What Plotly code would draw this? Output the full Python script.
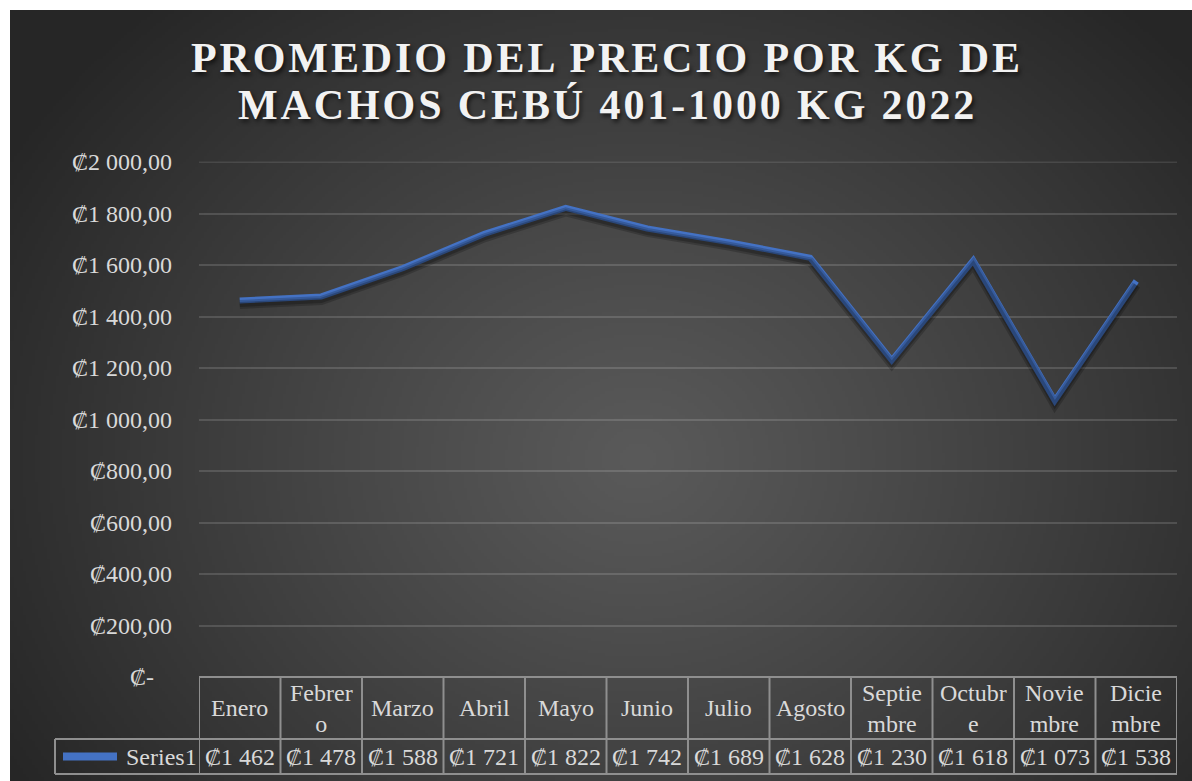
import numpy as np
import plotly.graph_objects as go
import zlib, struct, base64

# ---------------- data ----------------
months = ["Enero", "Febrero", "Marzo", "Abril", "Mayo", "Junio", "Julio",
          "Agosto", "Septiembre", "Octubre", "Noviembre", "Diciembre"]
month_labels = ["Enero", "Febrer<br>o", "Marzo", "Abril", "Mayo", "Junio", "Julio",
                "Agosto", "Septie<br>mbre", "Octubr<br>e", "Novie<br>mbre", "Dicie<br>mbre"]
prices = [1462, 1478, 1588, 1721, 1822, 1742, 1689, 1628, 1230, 1618, 1073, 1538]
y_tickvals = [0, 200, 400, 600, 800, 1000, 1200, 1400, 1600, 1800, 2000]
y_ticktext = ["₡-\u00a0\u00a0\u00a0", "₡200,00", "₡400,00", "₡600,00", "₡800,00",
              "₡1 000,00", "₡1 200,00", "₡1 400,00", "₡1 600,00", "₡1 800,00", "₡2 000,00"]
series_name = "Series1"
title_lines = ["PROMEDIO DEL PRECIO POR KG DE", "MACHOS CEBÚ 401-1000 KG 2022"]

# ---------------- geometry helpers ----------------
W, H = 1192, 781
def fx(p): return p / W
def fy(p): return 1 - p / H

PLOT_L, PLOT_R = 199, 1177
Y0_PX, Y2000_PX = 677, 161.5
HDR_TOP, HDR_BOT, ROW_BOT = 677, 739, 774
LEG_L = 55
Y_RANGE = [0, 2002]

FONT = "Liberation Serif, Times New Roman, DejaVu Serif, serif"
TXT = "#d9d9d9"
BORDER = "#8f8f8f"
BLUE = "#4472C4"
GRID = "rgba(255,255,255,0.14)"
FS = 24

# ---------------- background gradient image ----------------
bw, bh = 400, 262
yy, xx = np.mgrid[0:bh, 0:bw].astype(float)
cx, cy = 0.53 * bw, 0.58 * bh
r = np.sqrt(((xx - cx) / (0.62 * bw)) ** 2 + ((yy - cy) / (0.80 * bh)) ** 2)
r = np.clip(r, 0, 1)
c_in, c_out = 90, 38
val = c_in + (c_out - c_in) * r ** 1.1
arr = np.repeat(val[:, :, None], 3, axis=2).astype(np.uint8)

def make_png(a):
    h, w, _ = a.shape
    raw = b"".join(b"\x00" + a[i].tobytes() for i in range(h))
    def chunk(t, d):
        c = struct.pack(">I", len(d)) + t + d
        return c + struct.pack(">I", zlib.crc32(t + d) & 0xffffffff)
    return (b"\x89PNG\r\n\x1a\n" + chunk(b"IHDR", struct.pack(">IIBBBBB", w, h, 8, 2, 0, 0, 0))
            + chunk(b"IDAT", zlib.compress(raw, 9)) + chunk(b"IEND", b""))

bg_uri = "data:image/png;base64," + base64.b64encode(make_png(arr)).decode()

# ---------------- figure ----------------
fig = go.Figure()

ydom = [fy(Y0_PX), fy(Y2000_PX)]
shadow_off = 4 / H

# soft shadow of the line (same data on a slightly shifted axis)
fig.add_trace(go.Scatter(x=months, y=prices, mode="lines", xaxis="x", yaxis="y2",
                         line=dict(color="rgba(0,0,0,0.20)", width=9),
                         hoverinfo="skip", showlegend=False))
fig.add_trace(go.Scatter(x=months, y=prices, mode="lines", xaxis="x", yaxis="y2",
                         line=dict(color="rgba(0,0,0,0.22)", width=5),
                         hoverinfo="skip", showlegend=False))
fig.add_trace(go.Scatter(x=months, y=prices, mode="lines", name=series_name,
                         line=dict(color=BLUE, width=6), showlegend=False))

fig.update_layout(
    width=W, height=H,
    margin=dict(l=0, r=0, t=0, b=0, autoexpand=False),
    paper_bgcolor="white",
    plot_bgcolor="rgba(0,0,0,0)",
    xaxis=dict(domain=[fx(PLOT_L), fx(PLOT_R)], range=[-0.5, 11.5], type="category",
               showticklabels=False, showgrid=False, zeroline=False, showline=False,
               categoryorder="array", categoryarray=months, automargin=False),
    yaxis=dict(domain=ydom, range=Y_RANGE, tickvals=y_tickvals, ticktext=y_ticktext,
               tickfont=dict(family=FONT, size=FS, color=TXT), ticks="",
               ticklabelstandoff=26, automargin=False,
               showgrid=True, gridcolor=GRID, gridwidth=1.5,
               zeroline=False, showline=False),
    yaxis2=dict(domain=[ydom[0] - shadow_off, ydom[1] - shadow_off], range=Y_RANGE,
                visible=False, anchor="x", automargin=False),
    images=[dict(source=bg_uri, xref="paper", yref="paper", x=fx(10), y=fy(10),
                 sizex=fx(W) - fx(10), sizey=fy(10) - fy(H), sizing="stretch",
                 xanchor="left", yanchor="top", layer="below")],
)

# title
title_centers = [57.5, 105]
for line, yc in zip(title_lines, title_centers):
    fig.add_annotation(text='<span style="letter-spacing:2.9px">' + line + "</span>",
                       x=fx(607), y=fy(yc), xref="paper", yref="paper",
                       xanchor="center", yanchor="middle", showarrow=False,
                       font=dict(family=FONT, size=42, color="#f2f2f2", weight="bold",
                                 shadow="2px 3px 4px rgba(0,0,0,0.6)"))

# data table lines
shapes = []
# top gridline of the value axis (max tick)
shapes.append(dict(type="line", xref="x", yref="y", x0=-0.5, x1=11.5,
                   y0=y_tickvals[-1], y1=y_tickvals[-1], layer="below",
                   line=dict(color=GRID, width=1.5)))
line_style = dict(color=BORDER, width=2)
shapes.append(dict(type="line", xref="x", yref="paper", x0=-0.5, x1=11.5,
                   y0=fy(HDR_TOP), y1=fy(HDR_TOP), line=line_style))
for yp in (HDR_BOT, ROW_BOT):
    shapes.append(dict(type="line", xref="paper", yref="paper", x0=fx(LEG_L), x1=fx(PLOT_R),
                       y0=fy(yp), y1=fy(yp), line=line_style))
for i in range(len(months) + 1):
    shapes.append(dict(type="line", xref="x", yref="paper", x0=i - 0.5, x1=i - 0.5,
                       y0=fy(HDR_TOP), y1=fy(ROW_BOT), line=line_style))
shapes.append(dict(type="line", xref="paper", yref="paper", x0=fx(LEG_L), x1=fx(LEG_L),
                   y0=fy(HDR_BOT), y1=fy(ROW_BOT), line=line_style))
# legend key line
shapes.append(dict(type="line", xref="paper", yref="paper", x0=fx(63), x1=fx(117),
                   y0=fy(756.5), y1=fy(756.5), line=dict(color=BLUE, width=8)))
fig.update_layout(shapes=shapes)

# table text
for m, lab, v in zip(months, month_labels, prices):
    fig.add_annotation(text=lab, x=m, xref="x", y=fy((HDR_TOP + HDR_BOT) / 2), yref="paper",
                       showarrow=False, xanchor="center", yanchor="middle",
                       font=dict(family=FONT, size=FS, color=TXT))
    fig.add_annotation(text=f"₡{v // 1000} {v % 1000:03d}", x=m, xref="x",
                       y=fy((HDR_BOT + ROW_BOT) / 2), yref="paper",
                       showarrow=False, xanchor="center", yanchor="middle",
                       font=dict(family=FONT, size=FS, color=TXT))
fig.add_annotation(text=series_name, x=fx(199), y=fy((HDR_BOT + ROW_BOT) / 2),
                   xref="paper", yref="paper", showarrow=False, xanchor="right",
                   yanchor="middle", font=dict(family=FONT, size=FS, color=TXT))

fig.write_html("out.html", config={"displayModeBar": False},
               post_script="document.body.style.margin='0';document.body.style.overflow='hidden';")
